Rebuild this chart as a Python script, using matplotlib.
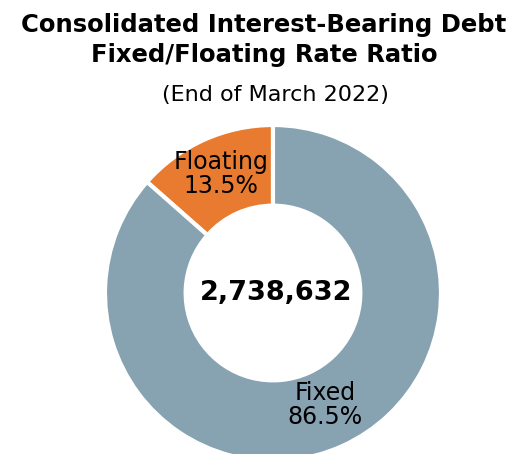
import matplotlib.pyplot as plt
import numpy as np

labels = ['Floating', 'Fixed']
shares = [13.5, 86.5]
colors = ['#E87B2F', '#87A2B1']
total = '2,738,632'

W, H = 516, 454
fig = plt.figure(figsize=(W / 100, H / 100), dpi=100)
ax = fig.add_axes([0, 0, 1, 1])

# pie in pixel-like data coords (y up)
cx, cy, r = 273, H - 293, 168
ax.pie(shares, colors=colors, startangle=90, counterclock=True,
       center=(cx, cy), radius=r,
       wedgeprops=dict(width=r * 0.48, edgecolor='white', linewidth=3))
ax.set_xlim(0, W)
ax.set_ylim(0, H)
ax.axis('off')

# slice labels
lab_pos = {'Floating': (221, 174), 'Fixed': (325, 405)}
for lab, val in zip(labels, shares):
    x, y = lab_pos[lab]
    ax.text(x, H - y, f'{lab}\n{val}%', ha='center', va='center',
            fontsize=17, linespacing=1.05, color='black')

ax.text(276, H - 293, total, ha='center', va='center',
        fontsize=19.5, fontweight='bold')

fig.text(264 / W, 1 - 40 / H, 'Consolidated Interest-Bearing Debt\nFixed/Floating Rate Ratio',
         ha='center', va='center', fontsize=17.5, fontweight='bold', linespacing=1.3)
fig.text(275 / W, 1 - 95 / H, '(End of March 2022)', ha='center', va='center',
         fontsize=16)

fig.savefig('out.png', dpi=100)
